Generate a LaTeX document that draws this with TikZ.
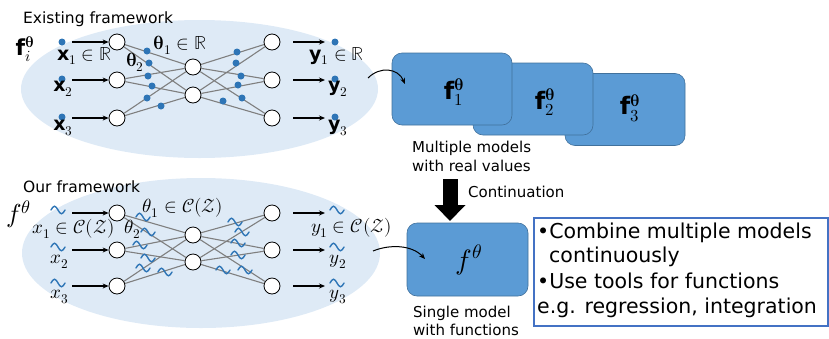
\documentclass[tikz,border=0pt]{standalone}
\usepackage{fontspec}
\usepackage{unicode-math}
\setmainfont{DejaVu Sans}
\setmathfont{Latin Modern Math}
\usetikzlibrary{arrows.meta,calc}
\definecolor{ellfill}{HTML}{DEEAF6}
\definecolor{dotblue}{HTML}{2E75B6}
\definecolor{boxblue}{HTML}{5B9BD5}
\definecolor{boxedge}{HTML}{41719C}
\definecolor{frameblue}{HTML}{4472C4}
\definecolor{edgegray}{HTML}{7F7F7F}
\tikzset{
  neuron/.style={circle,draw=black,fill=white,line width=0.8pt,minimum size=16pt,inner sep=0pt},
  link/.style={draw=edgegray,line width=1.1pt},
  feed/.style={draw=black,line width=1.1pt,-{Stealth[length=6pt,width=5pt]}},
  wt/.style={fill=dotblue},
  wave/.pic={\draw[dotblue,line width=1.4pt,line cap=round] (-7,0) sin (-3.5,-3.8) cos (0,0) sin (3.5,3.8) cos (7,0);},
  model/.style={rounded corners=10pt,fill=boxblue,draw=boxedge,line width=0.6pt,minimum width=120pt,minimum height=72pt,inner sep=0pt},
  lbl/.style={font=\fontsize{15.5pt}{18pt}\selectfont,inner sep=0pt},
  bigtxt/.style={font=\fontsize{20.5pt}{24pt}\selectfont,inner sep=0pt,anchor=base west},
  mlbl/.style={font=\fontsize{19pt}{22pt}\selectfont,inner sep=0pt},
}
\begin{document}
\begin{tikzpicture}[x=1pt,y=-1pt]
\useasboundingbox (0,0) rectangle (829,338);
% backgrounds
\fill[ellfill] (199.5,89) ellipse [x radius=178.5pt, y radius=69pt];
\fill[ellfill] (201,253) ellipse [x radius=179pt, y radius=75pt];
\node[lbl,anchor=base west] (t1) at (23,23) {Existing framework};
\node[lbl,anchor=base west] (t2) at (23,192) {Our framework};

% ---------- top network ----------
\node[neuron] (i1) at (117,42) {};
\node[neuron] (i2) at (117,80) {};
\node[neuron] (i3) at (117,118) {};
\node[neuron] (h1) at (193,67) {};
\node[neuron] (h2) at (193,95) {};
\node[neuron] (o1) at (272,42) {};
\node[neuron] (o2) at (272,80) {};
\node[neuron] (o3) at (272,118) {};
\foreach \a in {i1,i2,i3} \foreach \b in {h1,h2} \draw[link] (\a) -- (\b);
\foreach \a in {o1,o2,o3} \foreach \b in {h1,h2} \draw[link] (\b) -- (\a);
\foreach \p in {(147,51),(149,63),(148,76),(152,86),(147,98),(161,106),
                (237,52),(236,63),(241,76),(238,85),(223,101),(242,98),
                (62,42),(62,79),(62,117),(335,42),(335,79),(335,117)}
  \fill[wt] \p circle (3.5pt);
\coordinate (a1) at (72,42); \coordinate (a2) at (72,80); \coordinate (a3) at (72,118);
\draw[feed] (a1) -- (i1); \draw[feed] (a2) -- (i2); \draw[feed] (a3) -- (i3);
\coordinate (b1s) at (293,42); \coordinate (b1e) at (325,42);
\coordinate (b2s) at (293,80); \coordinate (b2e) at (325,80);
\coordinate (b3s) at (293,118); \coordinate (b3e) at (325,118);
\draw[feed] (b1s) -- (b1e); \draw[feed] (b2s) -- (b2e); \draw[feed] (b3s) -- (b3e);
\node[inner sep=0pt,font=\fontsize{22pt}{26pt}\selectfont] (fi) at (25,49) {$\mathbf{f}_i^{\symbfup{\theta}}$};
\node[mlbl,anchor=west] (x1) at (57,56) {$\mathbf{x}_1\in\mathbb{R}$};
\node[mlbl] (x2) at (63,89) {$\mathbf{x}_2$};
\node[mlbl] (x3) at (63,128) {$\mathbf{x}_3$};
\node[mlbl] (th1) at (180,45) {$\symbfup{\theta}_1\in\mathbb{R}$};
\node[mlbl] (th2) at (135,62) {$\symbfup{\theta}_2$};
\node[mlbl,anchor=west] (y1) at (309,56) {$\mathbf{y}_1\in\mathbb{R}$};
\node[mlbl] (y2) at (338,89) {$\mathbf{y}_2$};
\node[mlbl] (y3) at (338,128) {$\mathbf{y}_3$};

% ---------- bottom network ----------
\node[neuron] (j1) at (117,213) {};
\node[neuron] (j2) at (117,250) {};
\node[neuron] (j3) at (117,286) {};
\node[neuron] (k1) at (193,235) {};
\node[neuron] (k2) at (193,262) {};
\node[neuron] (q1) at (272,213) {};
\node[neuron] (q2) at (272,250) {};
\node[neuron] (q3) at (272,286) {};
\foreach \a in {j1,j2,j3} \foreach \b in {k1,k2} \draw[link] (\a) -- (\b);
\foreach \a in {q1,q2,q3} \foreach \b in {k1,k2} \draw[link] (\b) -- (\a);
\foreach \p in {(143,217),(148,232),(140,245),(148,258),(143,268),(165,272),
                (235,222),(242,232),(238,243),(238,255),(223,270),(245,270),
                (58,210),(58,247),(58,283),(337,210),(337,247),(337,283)}
  \pic at \p {wave};
\coordinate (c1) at (72,213); \coordinate (c2) at (72,250); \coordinate (c3) at (72,286);
\draw[feed] (c1) -- (j1); \draw[feed] (c2) -- (j2); \draw[feed] (c3) -- (j3);
\coordinate (d1s) at (293,213); \coordinate (d1e) at (325,213);
\coordinate (d2s) at (293,250); \coordinate (d2e) at (325,250);
\coordinate (d3s) at (293,286); \coordinate (d3e) at (325,286);
\draw[feed] (d1s) -- (d1e); \draw[feed] (d2s) -- (d2e); \draw[feed] (d3s) -- (d3e);
\node[inner sep=0pt,font=\fontsize{26pt}{30pt}\selectfont] (fb) at (19,214) {$f^{\theta}$};
\node[mlbl,anchor=west] (u1) at (32,229) {$x_1\in\mathcal{C}(\mathcal{Z})$};
\node[mlbl] (u2) at (60,262) {$x_2$};
\node[mlbl] (u3) at (60,297) {$x_3$};
\node[mlbl] (ph1) at (183,208) {$\theta_1\in\mathcal{C}(\mathcal{Z})$};
\node[mlbl] (ph2) at (133,229) {$\theta_2$};
\node[mlbl,anchor=west] (v1) at (311,228) {$y_1\in\mathcal{C}(\mathcal{Z})$};
\node[mlbl] (v2) at (338,262) {$y_2$};
\node[mlbl] (v3) at (338,297) {$y_3$};

% ---------- model boxes ----------
\node[model] (m3) at (625,109.5) {};
\node[model] (m2) at (533,99) {};
\node[model] (m1) at (452,89) {};
\node[inner sep=0pt,font=\fontsize{24pt}{28pt}\selectfont] (l1) at (454,92) {$\mathbf{f}_1^{\symbfup{\theta}}$};
\node[inner sep=0pt,font=\fontsize{24pt}{28pt}\selectfont] (l2) at (545,102) {$\mathbf{f}_2^{\symbfup{\theta}}$};
\node[inner sep=0pt,font=\fontsize{24pt}{28pt}\selectfont] (l3) at (630,108) {$\mathbf{f}_3^{\symbfup{\theta}}$};
\coordinate (ca1) at (368,78); \coordinate (ca2) at (405,84);
\draw[black,line width=1pt,-{Stealth[length=6pt,width=5pt]}] (ca1) .. controls (380,66) and (398,68) .. (ca2);
\node[lbl,font=\fontsize{15pt}{18pt}\selectfont,anchor=base west] (mm1) at (412,152) {Multiple models};
\node[lbl,font=\fontsize{15pt}{18pt}\selectfont,anchor=base west] (mm2) at (412,171) {with real values};

\coordinate (ct1) at (450,179); \coordinate (ct2) at (450,221);
\draw[black,line width=15pt,-{Triangle[width=30pt,length=16pt]}] (ct1) -- (ct2);
\node[lbl,font=\fontsize{15pt}{18pt}\selectfont,anchor=base west] (cn) at (468,197) {Continuation};

\node[model,minimum width=121pt,minimum height=73pt] (fm) at (467.5,259.5) {};
\node[inner sep=0pt,font=\fontsize{28pt}{32pt}\selectfont] (fl) at (469,260) {$f^{\theta}$};
\coordinate (cb1) at (373,251); \coordinate (cb2) at (425,259);
\draw[black,line width=1pt,-{Stealth[length=6pt,width=5pt]}] (cb1) .. controls (390,244) and (412,245) .. (cb2);
\node[lbl,font=\fontsize{15pt}{18pt}\selectfont,anchor=base west] (sm1) at (413,317) {Single model};
\node[lbl,font=\fontsize{15pt}{18pt}\selectfont,anchor=base west] (sm2) at (413,335) {with functions};

% ---------- text box ----------
\node[draw=frameblue,line width=1.2pt,minimum width=294pt,minimum height=108pt,inner sep=0pt] (tb) at (681,272) {};
\node[bigtxt] (r1) at (537,238) {•Combine multiple models};
\node[bigtxt] (r2) at (549,262) {continuously};
\node[bigtxt] (r3) at (537,288) {•Use tools for functions};
\node[bigtxt] (r4) at (537,313) {e.g. regression, integration};
\end{tikzpicture}
\end{document}
